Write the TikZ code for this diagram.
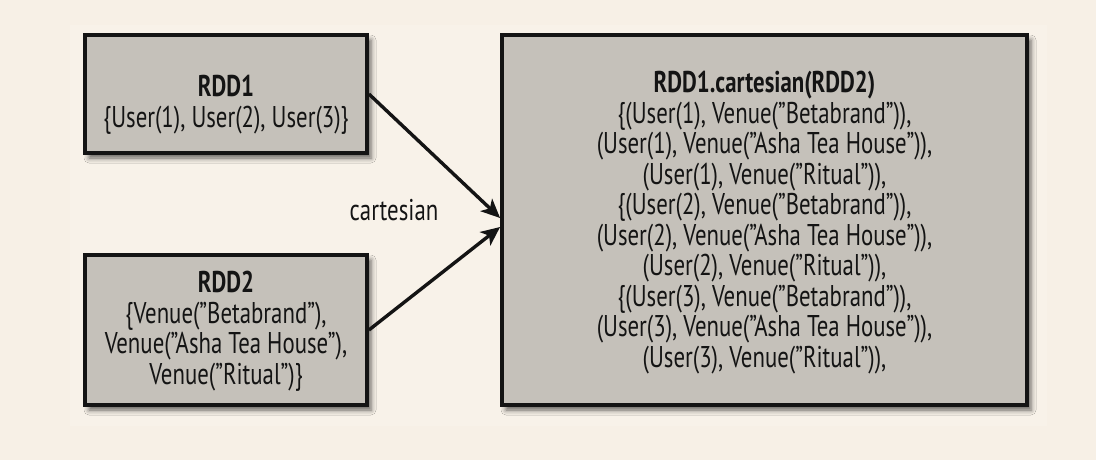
\documentclass[tikz,border=0pt]{standalone}
\usepackage{fontspec}
\setmainfont[FakeStretch=0.76]{PT Sans}
\usetikzlibrary{arrows.meta,shadows.blur}
\definecolor{bgout}{HTML}{F7F0E6}
\definecolor{bgin}{HTML}{F8F2E9}
\definecolor{boxfill}{HTML}{C5C1BA}
\definecolor{ink}{HTML}{141414}
\lineskiplimit=-100pt
\begin{document}
\begin{tikzpicture}[x=1pt,y=-1pt,
  rddbox/.style={draw=ink, line width=3.8pt, fill=boxfill, rectangle, inner sep=0pt,
    blur shadow={shadow xshift=4pt, shadow yshift=-5pt, shadow blur radius=5pt, shadow opacity=60}},
  boxtext/.style={anchor=north, inner sep=0pt, align=center, text=ink,
    font=\fontsize{30}{30.5}\selectfont},
  lbl/.style={anchor=base, inner sep=0pt, text=ink, font=\fontsize{30}{30}\selectfont},
  conn/.style={draw=ink, line width=3.4pt, -{Stealth[length=19pt,width=17pt,inset=5pt]}},
]
\useasboundingbox (0,0) rectangle (1096,460);
\fill[bgout] (0,0) rectangle (1096,460);
\fill[bgin] (70,25) rectangle (1047,426);

\node[rddbox, minimum width=282pt, minimum height=118pt] (rdd1) at (226,94) {};
\node[rddbox, minimum width=282pt, minimum height=150pt] (rdd2) at (226,330) {};
\node[rddbox, minimum width=525pt, minimum height=370pt] (big) at (764.5,220) {};

\node[boxtext] (rdd1t) at (226,75) {\textbf{RDD1}\\\{User(1), User(2), User(3)\}};
\node[boxtext] (rdd2t) at (226,271) {\textbf{RDD2}\\\{Venue(”Betabrand”),\\Venue(”Asha Tea House”),\\Venue(”Ritual”)\}};
\node[boxtext] (bigt) at (764.5,71) {\textbf{RDD1.cartesian(RDD2)}\\
\{(User(1), Venue(”Betabrand”)),\\
(User(1), Venue(”Asha Tea House”)),\\
(User(1), Venue(”Ritual”)),\\
\{(User(2), Venue(”Betabrand”)),\\
(User(2), Venue(”Asha Tea House”)),\\
(User(2), Venue(”Ritual”)),\\
\{(User(3), Venue(”Betabrand”)),\\
(User(3), Venue(”Asha Tea House”)),\\
(User(3), Venue(”Ritual”)),};

\node[lbl] (lab) at (394,220) {cartesian};

\draw[conn] (rdd1.east) -- ([yshift=2pt]big.west);
\draw[conn] (rdd2.east) -- ([yshift=-7pt]big.west);
\end{tikzpicture}
\end{document}
